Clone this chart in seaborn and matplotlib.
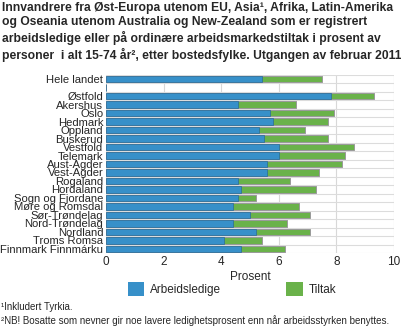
import matplotlib
matplotlib.use("Agg")
import matplotlib.pyplot as plt
import seaborn as sns
import pandas as pd
import numpy as np
from matplotlib.patches import Patch

sns.set_theme(style="white")
plt.rcParams['font.family'] = ['Liberation Sans', 'DejaVu Sans']

categories = ["Hele landet", " ", "Østfold", "Akershus", "Oslo", "Hedmark", "Oppland",
              "Buskerud", "Vestfold", "Telemark", "Aust-Agder", "Vest-Agder", "Rogaland",
              "Hordaland", "Sogn og Fjordane", "Møre og Romsdal", "Sør-Trøndelag",
              "Nord-Trøndelag", "Nordland", "Troms Romsa", "Finnmark Finnmárku"]
arbeidsledige = [5.4, 0, 7.8, 4.6, 5.7, 5.8, 5.3, 5.5, 6.0, 6.0, 5.6, 5.6, 4.6, 4.7,
                 4.6, 4.4, 5.0, 4.4, 5.2, 4.1, 4.7]
tiltak = [2.1, 0, 1.5, 2.0, 2.2, 1.9, 1.6, 2.2, 2.6, 2.3, 2.6, 1.8, 1.8, 2.6,
          0.6, 2.3, 2.1, 1.9, 1.9, 1.3, 1.5]
xticks = [0, 2, 4, 6, 8, 10]

blue = "#3790c9"
green = "#6ab24a"

df = pd.DataFrame({"cat": categories, "a": arbeidsledige, "t": tiltak})
df["total"] = df["a"] + df["t"]

fig = plt.figure(figsize=(4.01, 3.27), dpi=100)
ax = fig.add_axes([106/401, 1-253/327, (394-106)/401, (253-75)/327])

sns.barplot(data=df, y="cat", x="total", color=green, orient="h", ax=ax,
            width=0.76, edgecolor="#9a9a9a", linewidth=0.7, saturation=1)
sns.barplot(data=df, y="cat", x="a", color=blue, orient="h", ax=ax,
            width=0.76, edgecolor="#2a6a98", linewidth=0.5, saturation=1)

ax.set_xlim(0, 10)
ax.set_ylim(len(categories) - 0.5, -0.5)
ax.set_xticks(xticks)
ax.set_xticklabels([str(v) for v in xticks], fontsize=8.5)
ax.tick_params(axis="y", labelsize=8.1, pad=2, length=0)
ax.tick_params(axis="x", pad=2, length=0)
ax.set_xlabel("Prosent", fontsize=8.5, labelpad=2)
ax.set_ylabel("")

for xv in xticks[1:]:
    ax.axvline(xv, color="#d8d8d8", lw=0.8, zorder=0)
for i in range(len(categories) + 1):
    ax.axhline(i - 0.5, color="#dcdcdc", lw=0.8, zorder=0)
for s in ax.spines.values():
    s.set_visible(False)

fig.text(0.005, 0.995,
         "Innvandrere fra Øst-Europa utenom EU, Asia¹, Afrika, Latin-Amerika\n"
         "og Oseania utenom Australia og New-Zealand som er registrert\n"
         "arbeidsledige eller på ordinære arbeidsmarkedstiltak i prosent av\n"
         "personer  i alt 15-74 år², etter bostedsfylke. Utgangen av februar 2011",
         ha="left", va="top", fontsize=8.75, fontweight="bold", linespacing=1.28)

handles = [Patch(facecolor=blue, edgecolor="none", label="Arbeidsledige"),
           Patch(facecolor=green, edgecolor="none", label="Tiltak")]
fig.legend(handles=handles, loc="center", bbox_to_anchor=(232/401, 1-289/327),
           ncol=2, frameon=False, fontsize=8.5, handlelength=1.4, handleheight=1.4,
           columnspacing=5.5, handletextpad=0.5)

fig.text(0.003, 1-307/327, "¹Inkludert Tyrkia.", ha="left", va="center", fontsize=7.0)
fig.text(0.003, 1-321/327,
         "²NB! Bosatte som nevner gir noe lavere ledighetsprosent enn når arbeidsstyrken benyttes.",
         ha="left", va="center", fontsize=7.0)

fig.savefig("out.png", dpi=100)
